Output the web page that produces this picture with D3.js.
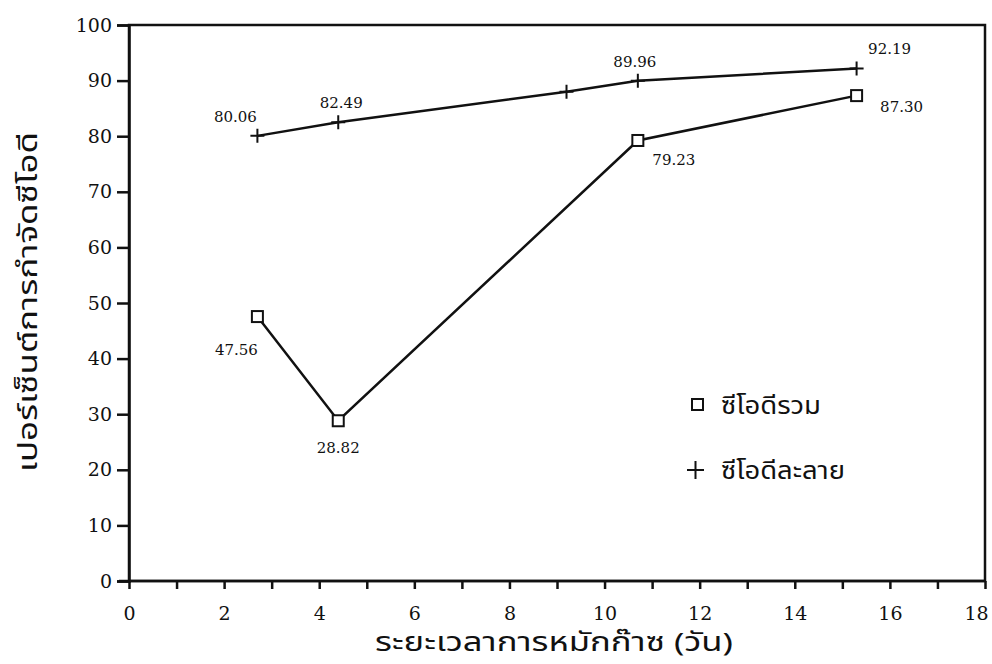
<!DOCTYPE html>
<html><head><meta charset="utf-8">
<script src="https://cdn.jsdelivr.net/npm/d3@7"></script>
<style>
body{margin:0;background:#fff;}
svg{display:block;}
</style></head>
<body>
<svg id="chart" width="992" height="664"></svg>
<script>
const daysTotal = [2.7, 4.4, 10.7, 15.3];
const codTotal = [47.56, 28.82, 79.23, 87.30];
const daysSoluble = [2.7, 4.4, 9.2, 10.7, 15.3];
const codSoluble = [80.06, 82.49, 88.0, 89.96, 92.19];
const solubleLabeled = [true, true, false, true, true];
const xTicks = [0, 2, 4, 6, 8, 10, 12, 14, 16, 18];
const yTicks = [0, 10, 20, 30, 40, 50, 60, 70, 80, 90, 100];
const legendLabels = ["ซีโอดีรวม", "ซีโอดีละลาย"];
const xTitle = "ระยะเวลาการหมักก๊าซ (วัน)";
const yTitle = "เปอร์เซ็นต์การกำจัดซีโอดี";

const svg = d3.select("#chart");
const x = d3.scaleLinear().domain([0, 18]).range([129, 985]);
const y = d3.scaleLinear().domain([0, 100]).range([581, 25]);
const serif = "'DejaVu Serif','Liberation Serif',serif";
const thai = "'Noto Sans Thai','Noto Sans Thai Looped','Noto Sans','DejaVu Sans',sans-serif";

// frame
svg.append("rect").attr("x", x(0)).attr("y", y(100)).attr("width", x(18)-x(0)).attr("height", y(0)-y(100))
  .attr("fill", "none").attr("stroke", "#111").attr("stroke-width", 2.5);

// x axis
const xAxis = d3.axisBottom(x).tickValues(d3.range(0, 19, 1)).tickSize(8).tickFormat(d => xTicks.includes(d) ? d : "");
const gx = svg.append("g").attr("transform", `translate(0,${y(0)})`).call(xAxis);
gx.select(".domain").attr("stroke", "#111").attr("stroke-width", 2.5).attr("d", `M${x(0)-10},0H${x(18)}`);
gx.selectAll(".tick line").attr("stroke", "#111").attr("stroke-width", 2.5);
gx.selectAll(".tick text").attr("font-family", serif).attr("font-size", 19).attr("fill", "#111")
  .attr("y", 39).attr("dy", null).attr("dx", d => d === 18 ? -9 : 0);

// y axis
const yAxis = d3.axisLeft(y).tickValues(yTicks).tickSize(12).tickPadding(6);
const gy = svg.append("g").attr("transform", `translate(${x(0)},0)`).call(yAxis);
gy.select(".domain").attr("stroke", "#111").attr("stroke-width", 2.5);
gy.selectAll(".tick line").attr("stroke", "#111").attr("stroke-width", 2.5);
gy.selectAll(".tick text").attr("font-family", serif).attr("font-size", 19).attr("fill", "#111").attr("x", -17);

// lines
const line = d3.line();
svg.append("path").datum(daysTotal.map((d,i)=>[x(d), y(codTotal[i])]))
  .attr("d", line).attr("fill","none").attr("stroke","#111").attr("stroke-width",2.5);
svg.append("path").datum(daysSoluble.map((d,i)=>[x(d), y(codSoluble[i])]))
  .attr("d", line).attr("fill","none").attr("stroke","#111").attr("stroke-width",2.5);

// markers
const sq = 11;
svg.selectAll(".sq").data(daysTotal).enter().append("rect")
  .attr("x", (d)=>x(d)-sq/2).attr("y",(d,i)=>y(codTotal[i])-sq/2)
  .attr("width", sq).attr("height", sq).attr("fill","#fff").attr("stroke","#111").attr("stroke-width",2);
const cr = 7;
svg.selectAll(".cr").data(daysSoluble).enter().append("path")
  .attr("d",(d,i)=>{const cx=x(d), cy=y(codSoluble[i]); return `M${cx-cr},${cy}H${cx+cr}M${cx},${cy-cr}V${cy+cr}`;})
  .attr("stroke","#111").attr("stroke-width",2);

// value labels (offsets in pixels relative to point)
const totalOffsets = [[-21, 38], [0, 32], [36, 25], [45, 16]];
const solubleOffsets = [[-22, -14], [3, -14], [0, 0], [-3, -14], [33, -14]];
svg.selectAll(".lt").data(daysTotal).enter().append("text")
  .attr("x",(d,i)=>x(d)+totalOffsets[i][0]).attr("y",(d,i)=>y(codTotal[i])+totalOffsets[i][1])
  .attr("text-anchor","middle").attr("font-family",serif).attr("font-size",15).attr("fill","#111")
  .text((d,i)=>codTotal[i].toFixed(2));
svg.selectAll(".ls").data(daysSoluble.filter((d,i)=>solubleLabeled[i])).enter().append("text")
  .each(function(d){
    const i = daysSoluble.indexOf(d);
    d3.select(this).attr("x", x(d)+solubleOffsets[i][0]).attr("y", y(codSoluble[i])+solubleOffsets[i][1])
      .text(codSoluble[i].toFixed(2));
  })
  .attr("text-anchor","middle").attr("font-family",serif).attr("font-size",15).attr("fill","#111");

// legend
const lg = svg.append("g");
lg.append("rect").attr("x", 692).attr("y", 399).attr("width", 11).attr("height", 11)
  .attr("fill","#fff").attr("stroke","#111").attr("stroke-width",2);
lg.append("text").attr("x", 721).attr("y", 414).attr("font-family", thai).attr("font-size", 25).attr("fill","#111")
  .attr("textLength", 100).attr("lengthAdjust", "spacingAndGlyphs").text(legendLabels[0]);
lg.append("path").attr("d","M687,470H704M695.5,461V479").attr("stroke","#111").attr("stroke-width",2);
lg.append("text").attr("x", 721).attr("y", 479).attr("font-family", thai).attr("font-size", 25).attr("fill","#111")
  .attr("textLength", 124).attr("lengthAdjust", "spacingAndGlyphs").text(legendLabels[1]);

// titles
svg.append("text").attr("x", 554).attr("y", 651).attr("text-anchor","middle")
  .attr("font-family", thai).attr("font-size", 26).attr("fill","#111")
  .attr("textLength", 358).attr("lengthAdjust", "spacingAndGlyphs").text(xTitle);
svg.append("text").attr("transform","translate(37,302) rotate(-90)").attr("text-anchor","middle")
  .attr("font-family", thai).attr("font-size", 26).attr("fill","#111")
  .attr("textLength", 340).attr("lengthAdjust", "spacingAndGlyphs").text(yTitle);
</script>
</body></html>
